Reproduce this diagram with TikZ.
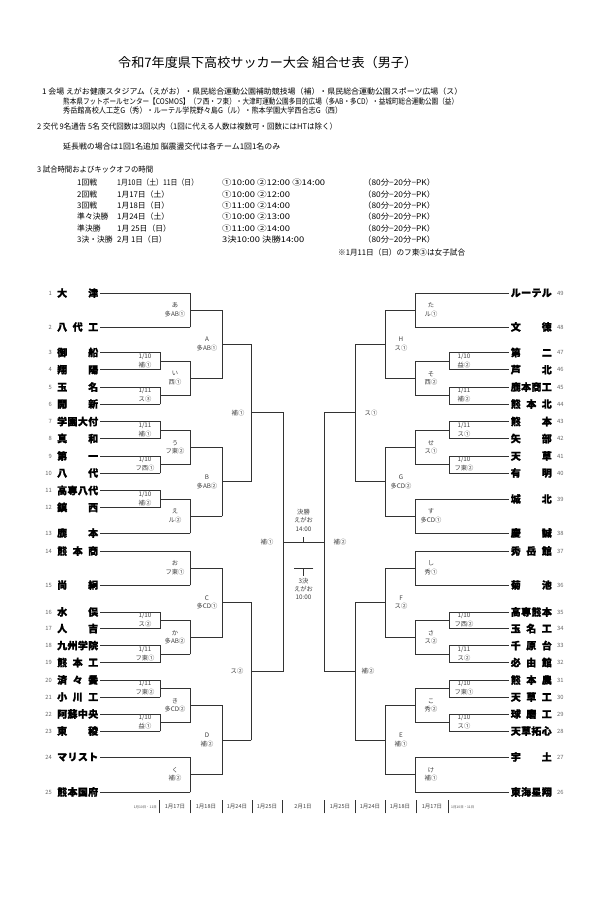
\documentclass[tikz,border=0pt]{standalone}
\usepackage{fontspec}
\setmainfont{Noto Sans CJK JP}[BoldFeatures={FakeBold=1.3}]
\usetikzlibrary{calc}
\newlength\fitw
\newcommand\fitto[2]{\settowidth\fitw{#2}\scalebox{\fpeval{#1/\fitw}}[1]{#2}}
\tikzset{
  br/.style={line width=0.85pt, draw=black!80, line cap=rect},
  lab/.style={font=\fontsize{6.3}{7}\selectfont, text=black!75, inner sep=0},
  numL/.style={anchor=east, font=\fontsize{5.8}{6}\selectfont, text=black!60, inner sep=0},
  numR/.style={anchor=west, font=\fontsize{5.8}{6}\selectfont, text=black!60, inner sep=0},
  nameL/.style={anchor=west, font=\fontsize{10}{10}\selectfont\bfseries, inner sep=0},
  nameR/.style={anchor=east, font=\fontsize{10}{10}\selectfont\bfseries, inner sep=0},
  hdr/.style={anchor=west, inner sep=0, font=\fontsize{7.8}{8}\selectfont},
  dt/.style={inner sep=0, font=\fontsize{5.5}{6}\selectfont, text=black!75},
  dtt/.style={inner sep=0, font=\fontsize{3.4}{4}\selectfont, text=black!70},
}
% team on the left: number, y, name, x where its line ends
\newcommand\teamL[4]{%
  \node[numL] (nL#1) at (52,#2) {#1};
  \node[nameL] (tL#1) at (57,#2) {\makebox[41pt][s]{#3}};
  \draw[br] ([xshift=2pt]tL#1.east) -- (#4,#2) coordinate (L#1);}
\newcommand\teamR[4]{%
  \node[numR] (nR#1) at (557,#2) {#1};
  \node[nameR] (tR#1) at (552,#2) {\makebox[41pt][s]{#3}};
  \draw[br] ([xshift=-2pt]tR#1.west) -- (#4,#2) coordinate (R#1);}
% match: name, top, bottom, dx to next round, label dx, label line 1, label line 2
\newcommand\match[7]{%
  \draw[br] (#2) -- (#3);
  \draw[br] ($(#2)!.5!(#3)$) -- ++(#4,0) coordinate (#1);
  \node[lab] (#1a) at ($(#2)!.5!(#3)+(#5,-4.5)$) {#6};
  \node[lab] (#1b) at ($(#2)!.5!(#3)+(#5,4)$) {#7};}
\newcommand\matchone[6]{%
  \draw[br] (#2) -- (#3);
  \draw[br] ($(#2)!.5!(#3)$) -- ++(#4,0) coordinate (#1);
  \node[lab] (#1a) at ($(#2)!.5!(#3)+(#5,0)$) {#6};}
\begin{document}
\begin{tikzpicture}[x=1pt,y=-1pt]
\useasboundingbox (0,0) rectangle (597,900);
\fill[white] (0,0) rectangle (597,900);

% ---------- header ----------
\node[anchor=west, inner sep=0, font=\fontsize{13}{14}\selectfont] (title) at (118,63)
  {\fitto{299}{令和7年度県下高校サッカー大会 組合せ表（男子）}};
\node[hdr] (h1) at (42,92) {\fitto{420}{1 会場 えがお健康スタジアム（えがお）・県民総合運動公園補助競技場（補）・県民総合運動公園スポーツ広場（ス）}};
\node[hdr] (h2) at (63,101.5) {\fitto{395}{熊本県フットボールセンター【COSMOS】（フ西・フ東）・大津町運動公園多目的広場（多AB・多CD）・益城町総合運動公園（益）}};
\node[hdr] (h3) at (63,111) {\fitto{279}{秀岳館高校人工芝G（秀）・ルーテル学院野々島G（ル）・熊本学園大学西合志G（西）}};
\node[hdr] (h4) at (37,127) {\fitto{300}{2 交代 9名通告 5名 交代回数は3回以内（1回に代える人数は複数可・回数にはHTは除く）}};
\node[hdr] (h5) at (63,147) {\fitto{217}{延長戦の場合は1回1名追加 脳震盪交代は各チーム1回1名のみ}};
\node[hdr] (h6) at (37,170) {\fitto{116}{3 試合時間およびキックオフの時間}};

\node[hdr] (r1a) at (77,183) {1回戦};
\node[hdr] (r1b) at (117,183) {\fitto{81}{1月10日（土）11日（日）}};
\node[hdr] (r1c) at (222,183) {\fitto{103}{①10:00 ②12:00 ③14:00}};
\node[hdr] (r1d) at (363,183) {\fitto{72}{（80分−20分−PK）}};
\node[hdr] (r2a) at (77,194.5) {2回戦};
\node[hdr] (r2b) at (117,194.5) {1月17日（土）};
\node[hdr] (r2c) at (222,194.5) {\fitto{68}{①10:00 ②12:00}};
\node[hdr] (r2d) at (363,194.5) {\fitto{72}{（80分−20分−PK）}};
\node[hdr] (r3a) at (77,205.5) {3回戦};
\node[hdr] (r3b) at (117,205.5) {1月18日（日）};
\node[hdr] (r3c) at (222,205.5) {\fitto{68}{①11:00 ②14:00}};
\node[hdr] (r3d) at (363,205.5) {\fitto{72}{（80分−20分−PK）}};
\node[hdr] (r4a) at (77,217) {準々決勝};
\node[hdr] (r4b) at (117,217) {1月24日（土）};
\node[hdr] (r4c) at (222,217) {\fitto{68}{①10:00 ②13:00}};
\node[hdr] (r4d) at (363,217) {\fitto{72}{（80分−20分−PK）}};
\node[hdr] (r5a) at (77,228.5) {準決勝};
\node[hdr] (r5b) at (117,228.5) {1月 25日（日）};
\node[hdr] (r5c) at (222,228.5) {\fitto{68}{①11:00 ②14:00}};
\node[hdr] (r5d) at (363,228.5) {\fitto{72}{（80分−20分−PK）}};
\node[hdr] (r6a) at (77,240) {3決・決勝};
\node[hdr] (r6b) at (117,240) {2月 1日（日）};
\node[hdr] (r6c) at (222,240) {\fitto{82}{3決10:00 決勝14:00}};
\node[hdr] (r6d) at (363,240) {\fitto{72}{（80分−20分−PK）}};
\node[hdr] (note) at (338,252.5) {\fitto{127}{※1月11日（日）のフ東③は女子試合}};

% ---------- left teams ----------
\teamL{1}{293}{大\hfil 津}{190}
\teamL{2}{327}{八\hfil 代\hfil 工}{190}
\teamL{3}{352.5}{御\hfil 船}{160}
\teamL{4}{369.7}{翔\hfil 陽}{160}
\teamL{5}{387}{玉\hfil 名}{160}
\teamL{6}{404}{開\hfil 新}{160}
\teamL{7}{421.5}{学\hfil 園\hfil 大\hfil 付}{160}
\teamL{8}{438.5}{真\hfil 和}{160}
\teamL{9}{456}{第\hfil 一}{160}
\teamL{10}{473}{八\hfil 代}{160}
\teamL{11}{490.5}{高\hfil 専\hfil 八\hfil 代}{160}
\teamL{12}{507.5}{鎮\hfil 西}{160}
\teamL{13}{533}{鹿\hfil 本}{190}
\teamL{14}{551}{熊\hfil 本\hfil 商}{190}
\teamL{15}{585}{尚\hfil 絅}{190}
\teamL{16}{612}{水\hfil 俣}{160}
\teamL{17}{628.5}{人\hfil 吉}{160}
\teamL{18}{645.5}{九\hfil 州\hfil 学\hfil 院}{160}
\teamL{19}{662.5}{熊\hfil 本\hfil 工}{160}
\teamL{20}{680}{済\hfil 々\hfil 黌}{160}
\teamL{21}{697}{小\hfil 川\hfil 工}{160}
\teamL{22}{714}{阿\hfil 蘇\hfil 中\hfil 央}{160}
\teamL{23}{731}{東\hfil 稜}{160}
\teamL{24}{757}{マ\hfil リ\hfil ス\hfil ト}{190}
\teamL{25}{792}{熊\hfil 本\hfil 国\hfil 府}{190}

% left first round
\match{m34}{L3}{L4}{30}{-15}{1/10}{補①}
\match{m56}{L5}{L6}{30}{-15}{1/11}{ス③}
\match{m78}{L7}{L8}{30}{-15}{1/11}{補①}
\match{m910}{L9}{L10}{30}{-15}{1/10}{フ西①}
\match{m1112}{L11}{L12}{30}{-15}{1/10}{補②}
\match{m1617}{L16}{L17}{30}{-15}{1/10}{ス②}
\match{m1819}{L18}{L19}{30}{-15}{1/11}{フ東①}
\match{m2021}{L20}{L21}{30}{-15}{1/11}{フ東②}
\match{m2223}{L22}{L23}{30}{-15}{1/10}{益①}
% left second round
\match{ma}{L1}{L2}{32}{-15}{あ}{多AB①}
\match{mi}{m34}{m56}{32}{-15}{い}{西①}
\match{mu}{m78}{m910}{32}{-15}{う}{フ東②}
\match{me}{m1112}{L13}{32}{-15}{え}{ル②}
\match{mo}{L14}{L15}{32}{-15}{お}{フ東①}
\match{mka}{m1617}{m1819}{32}{-15}{か}{多AB②}
\match{mki}{m2021}{m2223}{32}{-15}{き}{多CD②}
\match{mku}{L24}{L25}{32}{-15}{く}{補②}
% left third round
\match{mA}{ma}{mi}{29}{-15}{A}{多AB①}
\match{mB}{mu}{me}{29}{-15}{B}{多AB②}
\match{mC}{mo}{mka}{29}{-15}{C}{多CD①}
\match{mD}{mki}{mku}{29}{-15}{D}{補②}
% left quarter-final
\matchone{mQ1}{mA}{mB}{32}{-13}{補①}
\matchone{mQ2}{mC}{mD}{32}{-14}{ス②}

% ---------- right teams ----------
\teamR{49}{293}{ル\hfil ー\hfil テ\hfil ル}{415}
\teamR{48}{327}{文\hfil 徳}{415}
\teamR{47}{352.5}{第\hfil 二}{449}
\teamR{46}{369.7}{芦\hfil 北}{449}
\teamR{45}{387}{鹿\hfil 本\hfil 商\hfil 工}{449}
\teamR{44}{404}{熊\hfil 本\hfil 北}{449}
\teamR{43}{421.5}{熊\hfil 本}{449}
\teamR{42}{438.5}{矢\hfil 部}{449}
\teamR{41}{456}{天\hfil 草}{449}
\teamR{40}{473}{有\hfil 明}{449}
\teamR{39}{499}{城\hfil 北}{415}
\teamR{38}{533}{慶\hfil 誠}{415}
\teamR{37}{551}{秀\hfil 岳\hfil 館}{415}
\teamR{36}{585}{菊\hfil 池}{415}
\teamR{35}{612}{高\hfil 専\hfil 熊\hfil 本}{449}
\teamR{34}{628.5}{玉\hfil 名\hfil 工}{449}
\teamR{33}{645.5}{千\hfil 原\hfil 台}{449}
\teamR{32}{662.5}{必\hfil 由\hfil 館}{449}
\teamR{31}{680}{熊\hfil 本\hfil 農}{449}
\teamR{30}{697}{天\hfil 草\hfil 工}{449}
\teamR{29}{714}{球\hfil 磨\hfil 工}{449}
\teamR{28}{731}{天\hfil 草\hfil 拓\hfil 心}{449}
\teamR{27}{757}{宇\hfil 土}{415}
\teamR{26}{792}{東\hfil 海\hfil 星\hfil 翔}{415}

% right first round
\match{n4746}{R47}{R46}{-34}{15}{1/10}{益②}
\match{n4544}{R45}{R44}{-34}{15}{1/11}{補②}
\match{n4342}{R43}{R42}{-34}{15}{1/11}{ス①}
\match{n4140}{R41}{R40}{-34}{15}{1/10}{フ東②}
\match{n3534}{R35}{R34}{-34}{15}{1/10}{フ西②}
\match{n3332}{R33}{R32}{-34}{15}{1/11}{ス②}
\match{n3130}{R31}{R30}{-34}{15}{1/10}{フ東①}
\match{n2928}{R29}{R28}{-34}{15}{1/10}{ス①}
% right second round
\match{nta}{R49}{R48}{-30}{16}{た}{ル①}
\match{nso}{n4746}{n4544}{-30}{16}{そ}{西②}
\match{nse}{n4342}{n4140}{-30}{16}{せ}{ス①}
\match{nsu}{R39}{R38}{-30}{16}{す}{多CD①}
\match{nsi}{R37}{R36}{-30}{16}{し}{秀①}
\match{nsa}{n3534}{n3332}{-30}{16}{さ}{ス②}
\match{nko}{n3130}{n2928}{-30}{16}{こ}{秀②}
\match{nke}{R27}{R26}{-30}{16}{け}{補①}
% right third round
\match{nH}{nta}{nso}{-30}{16}{H}{ス①}
\match{nG}{nse}{nsu}{-30}{16}{G}{多CD②}
\match{nF}{nsi}{nsa}{-30}{16}{F}{ス②}
\match{nE}{nko}{nke}{-30}{16}{E}{補①}
% right quarter-final
\matchone{mR1}{nH}{nG}{-31}{16}{ス①}
\matchone{mR2}{nF}{nE}{-31}{13}{補②}

% ---------- semi-finals and final ----------
\draw[br] (mQ1) -- (mQ2);
\draw[br] (mR1) -- (mR2);
\coordinate (sL) at ($(mQ1)!.5!(mQ2)$);
\coordinate (sR) at ($(mR1)!.5!(mR2)$);
\node[lab] (semL) at ($(sL)+(-16,0)$) {補①};
\node[lab] (semR) at ($(sR)+(16,0)$) {補②};
\draw[br] (sL) -- (sL -| sR);
\coordinate (fin) at ($(sL)!.5!(sL -| sR)$);
\draw[br] (fin) -- ++(0,-5);
\node[lab] (f1) at ($(fin)+(0,-30)$) {決勝};
\node[lab] (f2) at ($(fin)+(0,-22)$) {えがお};
\node[lab] (f3) at ($(fin)+(0,-13)$) {14:00};
\coordinate (t3) at ($(fin)+(0,26)$);
\draw[br] ($(t3)+(-9.5,0)$) -- ($(t3)+(9.5,0)$);
\draw[br] (t3) -- ++(0,7);
\node[lab] (g1) at ($(t3)+(0,13)$) {3決};
\node[lab] (g2) at ($(t3)+(0,21)$) {えがお};
\node[lab] (g3) at ($(t3)+(0,29)$) {10:00};

% ---------- date row ----------
\foreach \x in {159,190,222,252,282,324,355,385,416,448}
  \draw[br, line width=0.7pt] (\x,800) -- (\x,813);
\node[dtt, anchor=east] (d0) at (157,807) {1月10日・11日};
\node[dt] (d1) at (175,807) {1月17日};
\node[dt] (d2) at (206,807) {1月18日};
\node[dt] (d3) at (237,807) {1月24日};
\node[dt] (d4) at (267,807) {1月25日};
\node[dt] (d5) at (303,807) {2月1日};
\node[dt] (d6) at (340,807) {1月25日};
\node[dt] (d7) at (370,807) {1月24日};
\node[dt] (d8) at (400,807) {1月18日};
\node[dt] (d9) at (432,807) {1月17日};
\node[dtt, anchor=west] (d10) at (451,807) {1月10日・11日};
\end{tikzpicture}
\end{document}
